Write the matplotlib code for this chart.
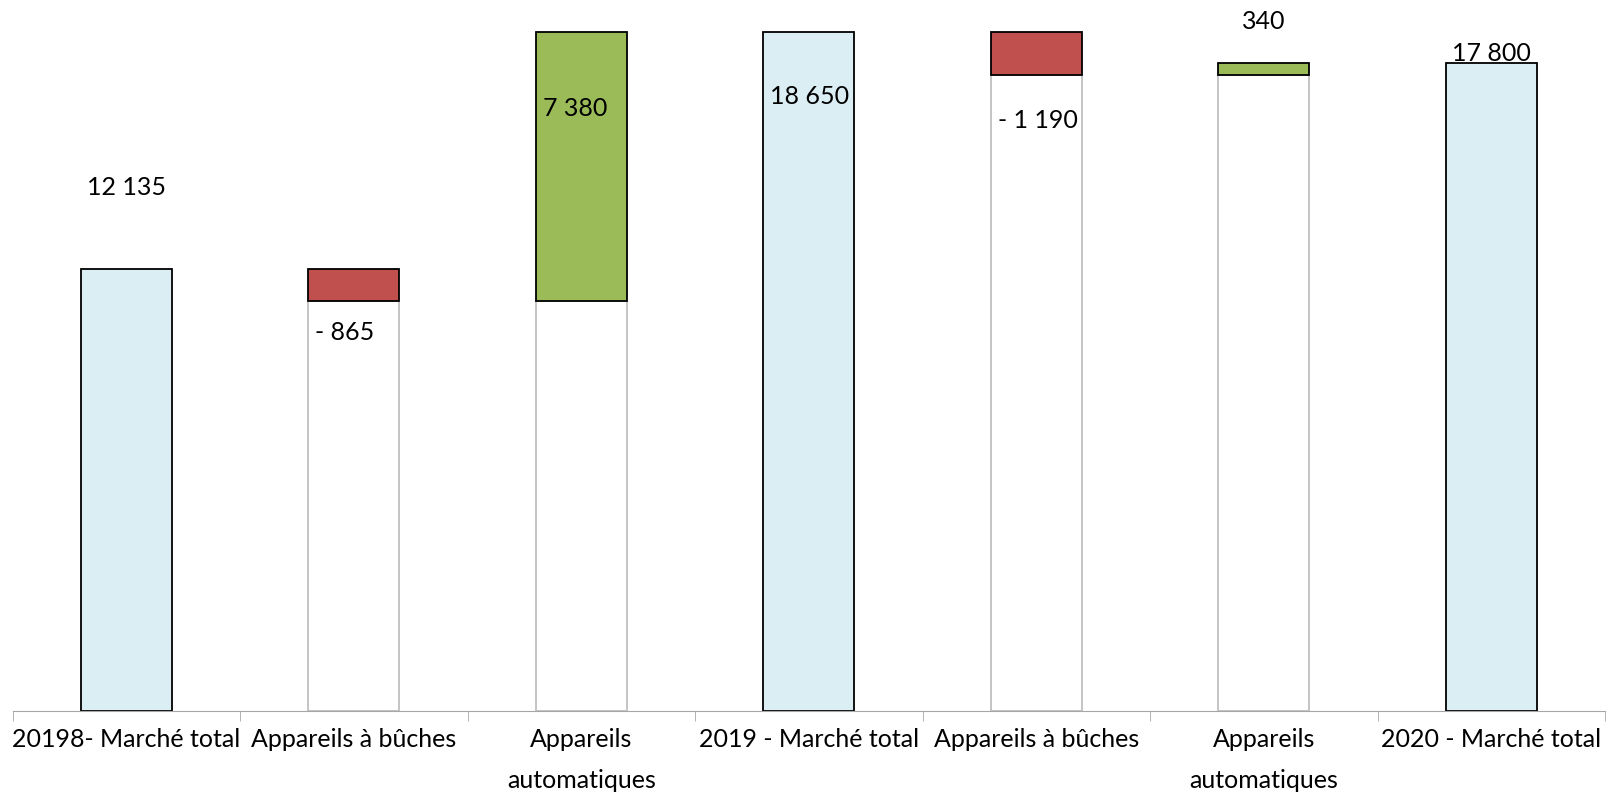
import matplotlib.pyplot as plt
import numpy as np

# pont du marché (waterfall)
categories = ['20198- Marché total', 'Appareils à bûches', 'Appareils\nautomatiques',
              '2019 - Marché total', 'Appareils à bûches', 'Appareils\nautomatiques',
              '2020 - Marché total']
values = [12135, -865, 7380, 18650, -1190, 340, 17800]
is_total = [True, False, False, True, False, False, True]
labels = ['12 135', '- 865', '7 380', '18 650', '- 1 190', '340', '17 800']

plt.rcParams['font.family'] = ['Lato', 'DejaVu Sans']

fig = plt.figure(figsize=(16.07, 7.95), dpi=100)
ax = fig.add_axes([12.5 / 1607, 84 / 795, 1592.5 / 1607, 711 / 795])

x = np.arange(len(categories))
w = 0.40
running = 0
tops = []
for i, v in enumerate(values):
    if is_total[i]:
        ax.bar(x[i], v, w, color='#DAEEF3', edgecolor='black', linewidth=1.3, zorder=3)
        running = v
        tops.append(v)
    else:
        base = running + min(v, 0)
        ax.bar(x[i], base, w, color='white', edgecolor='#BFBFBF', linewidth=1.3, zorder=2)
        col = '#9BBB59' if v > 0 else '#C0504D'
        ax.bar(x[i], abs(v), w, bottom=base, color=col, edgecolor='black', linewidth=1.3, zorder=3)
        running = running + v
        tops.append(base if v < 0 else running)

# étiquettes : décalage vertical en pixels, alignement
offsets = [(82, 'center'), (-32, 'left'), (-77, 'left'), (-65, 'left'),
           (-45, 'left'), (41, 'center'), (9, 'center')]
for i in range(len(values)):
    dy, ha = offsets[i]
    xx = x[i] - w / 2 + 0.03 if ha == 'left' else x[i]
    ax.annotate(labels[i], (xx, tops[i]), xytext=(0, dy), textcoords='offset pixels',
                ha=ha, va='center', fontsize=18, zorder=5)

ax.set_xlim(-0.5, len(categories) - 0.5)
ax.set_ylim(0, 18650 * 711 / 679)
ax.set_xticks(x)
ax.set_xticklabels(categories, fontsize=18, linespacing=1.95)
ax.set_xticks(np.arange(-0.5, len(categories)), minor=True)
ax.tick_params(axis='x', which='major', length=0, pad=12)
ax.tick_params(axis='x', which='minor', length=7, color='#A6A6A6')
ax.set_yticks([])
for s in ['top', 'right', 'left']:
    ax.spines[s].set_visible(False)
ax.spines['bottom'].set_color('#A6A6A6')
ax.spines['bottom'].set_zorder(4)

fig.savefig('out.png', dpi=100)
